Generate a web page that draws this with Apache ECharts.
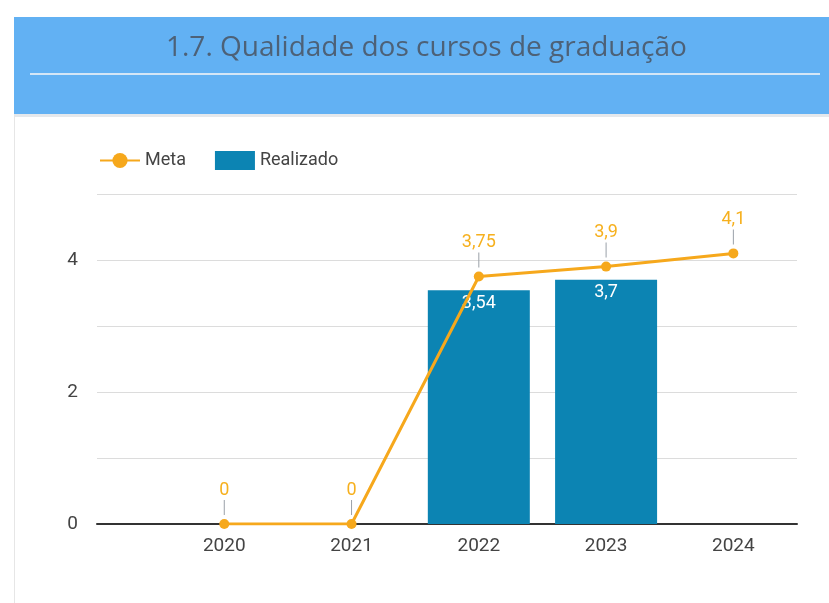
<!DOCTYPE html>
<html>
<head>
<meta charset="utf-8">
<script src="https://cdn.jsdelivr.net/npm/echarts@6/dist/echarts.min.js"></script>
<style>html,body{margin:0;padding:0;background:#fff}#c{width:829px;height:603px}</style>
</head>
<body>
<div id="c"></div>
<script>
const titleText = '1.7. Qualidade dos cursos de graduação';
const years = [2020, 2021, 2022, 2023, 2024];
const metaValues = [0, 0, 3.75, 3.9, 4.1];
const realYears = [2022, 2023];
const realValues = [3.54, 3.7];
const yTicks = [0, 2, 4];

const fmt = v => String(v).replace('.', ',');
const chart = echarts.init(document.getElementById('c'));
chart.setOption({
  backgroundColor: '#fff',
  animation: false,
  textStyle: { fontFamily: 'Roboto' },
  title: {
    text: titleText, left: 161, top: 29,
    textStyle: { fontFamily: 'Open Sans', fontSize: 28, fontWeight: 'normal', color: '#4d6177' }
  },
  graphic: [
    { type: 'rect', z: -10, shape: { x: 14, y: 17, width: 815, height: 97 }, style: { fill: '#62b1f3' } },
    { type: 'rect', z: -9, shape: { x: 30, y: 73, width: 790, height: 2 }, style: { fill: '#d4e6f6' } },
    { type: 'rect', z: -10, shape: { x: 14, y: 114, width: 815, height: 3 }, style: { fill: '#e4e8ec' } },
    { type: 'rect', z: -10, shape: { x: 14, y: 114, width: 1, height: 489 }, style: { fill: '#e6e6e6' } }
  ],
  legend: {
    left: 94, top: 146, itemWidth: 40, itemHeight: 19, itemGap: 29,
    textStyle: { fontSize: 18, color: '#444', fontFamily: 'Roboto' },
    data: [{ name: 'Meta' }, { name: 'Realizado', icon: 'rect' }]
  },
  grid: { left: 97, right: 32, top: 194, bottom: 79 },
  xAxis: {
    type: 'value', min: 2019, max: 2024.5, interval: 1,
    axisLine: { show: true, onZero: true, lineStyle: { color: '#333', width: 2 } },
    axisTick: { show: false },
    splitLine: { show: false },
    axisLabel: {
      margin: 13, fontSize: 19, color: '#444',
      formatter: v => years.includes(v) ? String(v) : ''
    }
  },
  yAxis: {
    type: 'value', min: 0, max: 5, interval: 1,
    axisLine: { show: false }, axisTick: { show: false },
    splitLine: { lineStyle: { color: '#dcdcdc', width: 1 } },
    axisLabel: {
      margin: 19, fontSize: 19, color: '#444',
      formatter: v => yTicks.includes(v) ? String(v) : ''
    }
  },
  series: [
    {
      name: 'Realizado', type: 'bar', barWidth: 102,
      itemStyle: { color: '#0c84b3' },
      data: realYears.map((y, i) => [y, realValues[i]]),
      label: {
        show: true, position: 'insideTop', distance: 4,
        color: '#fff', fontSize: 18,
        formatter: p => fmt(p.value[1])
      },
      z: 2
    },
    {
      name: 'Meta', type: 'line',
      color: '#f6a81c',
      lineStyle: { width: 3, color: '#f6a81c' },
      symbol: 'circle', symbolSize: 10,
      itemStyle: { color: '#f6a81c' },
      data: years.map((y, i) => [y, metaValues[i]]),
      label: {
        show: true, position: 'top', distance: 4,
        formatter: p => '{v|' + fmt(p.value[1]) + '}\n{s|}',
        rich: {
          v: { color: '#f6b01e', fontSize: 18, lineHeight: 20, align: 'center' },
          s: { width: 1, height: 15, backgroundColor: '#9aa0a8', align: 'center' }
        }
      },
      z: 3
    }
  ]
});
</script>
</body>
</html>
